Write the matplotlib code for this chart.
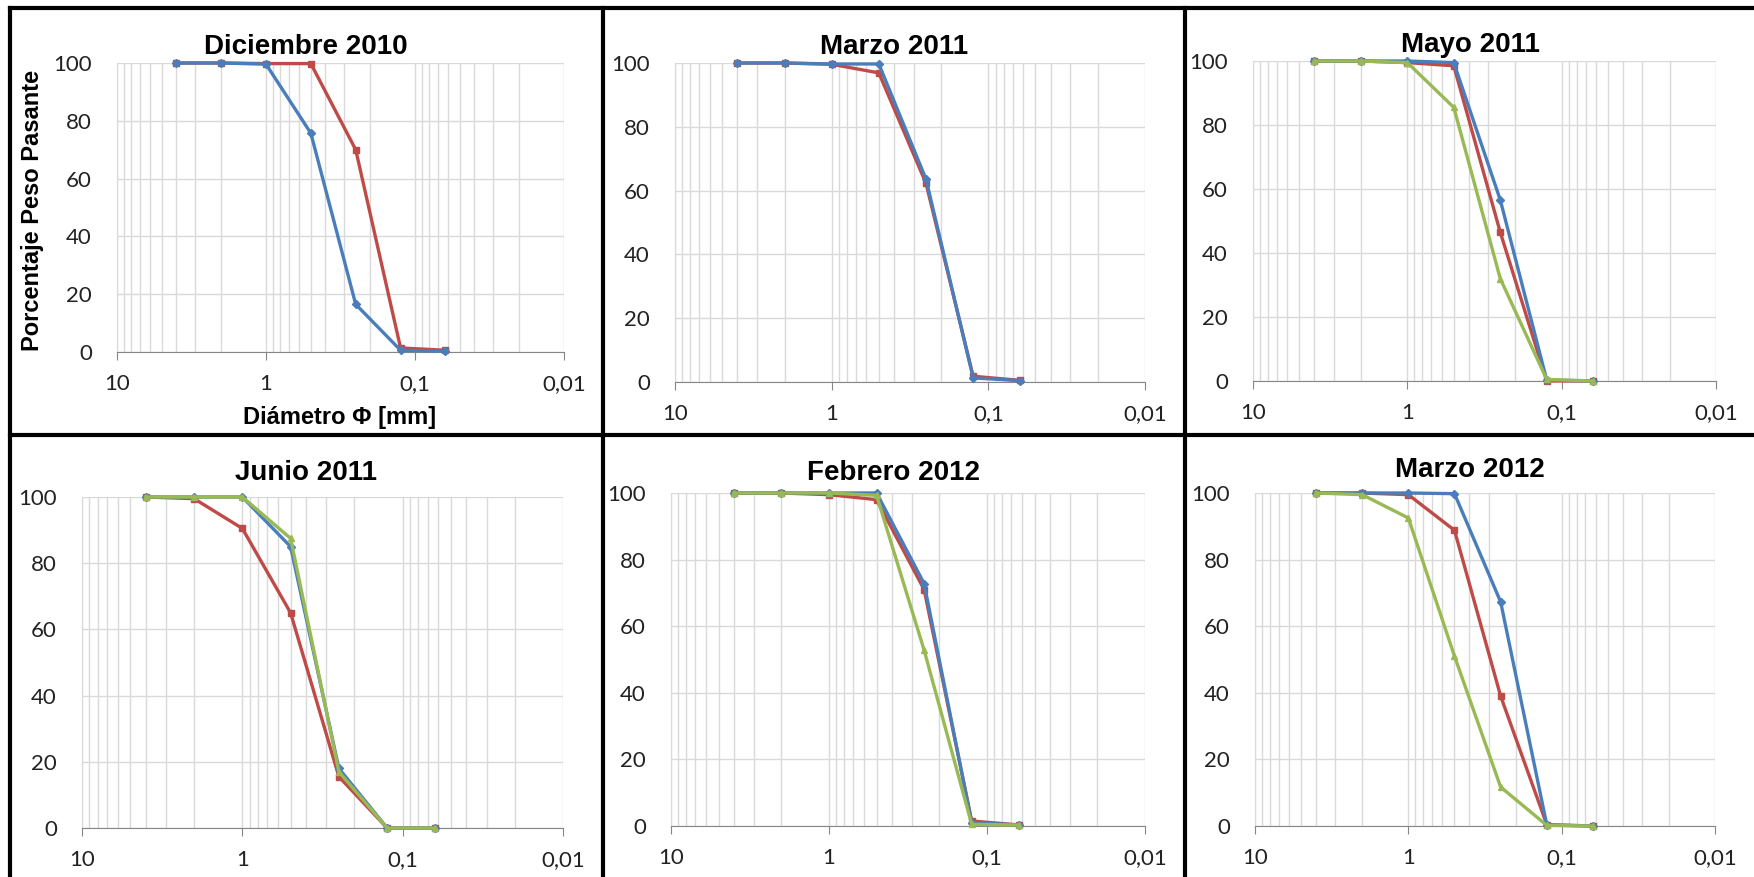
import matplotlib.pyplot as plt
from matplotlib.lines import Line2D
from matplotlib.ticker import FixedLocator, LogLocator, NullFormatter

# tamices (mm)
diam = [4, 2, 1, 0.5, 0.25, 0.125, 0.0625]

titles = ["Diciembre 2010", "Marzo 2011", "Mayo 2011",
          "Junio 2011", "Febrero 2012", "Marzo 2012"]

# porcentaje peso pasante por campaña
dic10_red = [100, 100, 99.8, 99.8, 70, 1.4, 0.6]
dic10_blue = [100, 100, 99.6, 75.7, 16.5, 0.6, 0.2]

mar11_red = [100, 100, 99.6, 96.9, 62.3, 1.8, 0.5]
mar11_blue = [100, 100, 99.7, 99.7, 63.6, 1.3, 0.4]

may11_red = [100, 100, 99.5, 98.5, 46.5, 0.0, 0.0]
may11_blue = [100, 100, 100, 99.5, 56.6, 0.3, 0.0]
may11_green = [100, 100, 99.5, 85.5, 32, 0.5, 0.0]

jun11_red = [100, 99.5, 90.5, 65, 15.5, 0.0, 0.0]
jun11_blue = [100, 100, 100, 85, 18, 0.0, 0.0]
jun11_green = [100, 100, 100, 87.5, 17, 0.0, 0.0]

feb12_red = [100, 100, 99.5, 98, 71, 1.5, 0.3]
feb12_blue = [100, 100, 100, 100, 72.8, 1.0, 0.3]
feb12_green = [100, 100, 100, 99.3, 52.8, 0.5, 0.3]

mar12_red = [100, 100, 99.5, 88.8, 39, 0.4, 0.0]
mar12_blue = [100, 100, 100, 99.8, 67.3, 0.3, 0.0]
mar12_green = [100, 99.5, 92.5, 51, 11.7, 0.2, 0.0]

panels = [
    [dic10_red, dic10_blue, None],
    [mar11_red, mar11_blue, None],
    [may11_red, may11_blue, may11_green],
    [jun11_red, jun11_blue, jun11_green],
    [feb12_red, feb12_blue, feb12_green],
    [mar12_red, mar12_blue, mar12_green],
]

RED = "#BE4B48"
BLUE = "#4A7EBB"
GREEN = "#98B954"
GRID = "#D9D9D9"

W, H = 1754, 877
fig = plt.figure(figsize=(W / 100, H / 100), dpi=100)

# ejes en pixeles: x0, x1, y_top(100), y_bottom(0)
boxes = [
    (117, 564, 63, 352),
    (675, 1145, 63, 382),
    (1253, 1716, 61, 381),
    (82, 563, 497, 828),
    (671, 1145, 493, 826),
    (1255, 1715, 493, 826),
]
# marcos de cada grafico (centro x, y del titulo)
title_pos = [(306, 47), (894, 47), (1470, 45), (306, 473), (894, 473), (1470, 470)]

tick_font = ["Lato", "DejaVu Sans"]
bold_font = ["Liberation Sans", "DejaVu Sans"]

for i, (series, box) in enumerate(zip(panels, boxes)):
    x0, x1, yt, yb = box
    ax = fig.add_axes([x0 / W, 1 - yb / H, (x1 - x0) / W, (yb - yt) / H])
    ax.set_xscale("log")
    ax.set_xlim(10, 0.01)
    ax.set_ylim(0, 100)

    ax.xaxis.set_major_locator(FixedLocator([10, 1, 0.1, 0.01]))
    ax.set_xticklabels(["10", "1", "0,1", "0,01"])
    ax.xaxis.set_minor_locator(LogLocator(base=10, subs=range(2, 10)))
    ax.xaxis.set_minor_formatter(NullFormatter())
    ax.set_yticks(range(0, 101, 20))

    ax.grid(True, which="both", axis="x", color=GRID, lw=1)
    ax.grid(True, which="major", axis="y", color=GRID, lw=1)
    ax.set_axisbelow(True)

    for s in ["top", "right"]:
        ax.spines[s].set_visible(False)
    ax.spines["left"].set_color(GRID)
    ax.spines["bottom"].set_color("#868686")

    ax.tick_params(axis="x", which="major", length=6, color="#868686",
                   direction="out", pad=10)
    ax.tick_params(axis="x", which="minor", length=0)
    ax.tick_params(axis="y", length=0, pad=18)
    for lab in ax.get_xticklabels() + ax.get_yticklabels():
        lab.set_family(tick_font)
        lab.set_fontsize(16)
        lab.set_color("#222222")

    red, blue, green = series
    ax.plot(diam, red, color=RED, lw=2.4, marker="s", ms=5, zorder=3, clip_on=False)
    ax.plot(diam, blue, color=BLUE, lw=2.4, marker="D", ms=4.5, zorder=4, clip_on=False)
    if green is not None:
        ax.plot(diam, green, color=GREEN, lw=2.4, marker="^", ms=5, zorder=5, clip_on=False)

    tx, ty = title_pos[i]
    fig.text(tx / W, 1 - ty / H, titles[i], ha="center", va="center",
             fontsize=20, fontweight="bold", family=bold_font)

# etiquetas de ejes (solo primer grafico)
fig.text(33 / W, 1 - 210 / H, "Porcentaje Peso Pasante", rotation=90,
         ha="center", va="center", fontsize=17, fontweight="bold", family=bold_font)
fig.text(340 / W, 1 - 417 / H, "Diámetro Φ [mm]", ha="center", va="center",
         fontsize=17, fontweight="bold", family=bold_font)

# marcos negros
frame = [
    ((10, W), (8, 8)),
    ((10, W), (435, 435)),
    ((10, 10), (8, H)),
    ((603, 603), (8, H)),
    ((1185, 1185), (8, H)),
]
for xs, ys in frame:
    fig.add_artist(Line2D([x / W for x in xs], [1 - y / H for y in ys],
                          transform=fig.transFigure, color="black", lw=3))

fig.savefig("out.png", dpi=100, facecolor="white")
